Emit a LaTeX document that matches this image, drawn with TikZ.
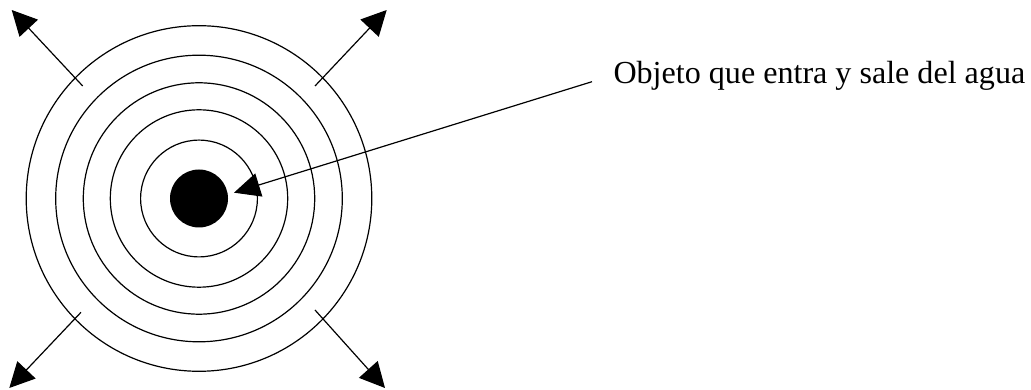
\documentclass[tikz,border=0pt]{standalone}
\usepackage{fontspec}
\setmainfont{Liberation Serif}
\usetikzlibrary{arrows.meta}
\begin{document}
\begin{tikzpicture}[x=1pt,y=1pt,
  ring/.style={draw=black,line width=1.2pt,circle,inner sep=0pt,minimum size=#1},
  bigarrow/.style={line width=1.2pt,-{Triangle[length=25pt,width=25pt]}},
  lbl/.style={font=\fontsize{32.1}{38}\selectfont,inner sep=0pt,anchor=base west}]
\useasboundingbox (0,0) rectangle (1031,390);
\coordinate (c) at (199,191.5);
\node[ring=116.8pt] (r1) at (c) {};
\node[ring=177.4pt] (r2) at (c) {};
\node[ring=231.4pt] (r3) at (c) {};
\node[ring=286.6pt] (r4) at (c) {};
\node[ring=345.6pt] (r5) at (c) {};
\node[circle,fill=black,inner sep=0pt,minimum size=58pt] (dot) at (c) {};
% outward arrows
\coordinate (s1) at (82.7,304);
\coordinate (t1) at (11.7,380);
\coordinate (s2) at (315,304);
\coordinate (t2) at (386.7,380);
\coordinate (s3) at (81,77.7);
\coordinate (t3) at (9.3,2);
\coordinate (s4) at (315,80);
\coordinate (t4) at (385,2);
\draw[bigarrow] (s1) -- (t1);
\draw[bigarrow] (s2) -- (t2);
\draw[bigarrow] (s3) -- (t3);
\draw[bigarrow] (s4) -- (t4);
% label and pointer
\node[lbl] (txt) at (613.3,306) {Objeto que entra y sale del agua};
\coordinate (p0) at (592,308.3);
\coordinate (p1) at (234,197.3);
\draw[line width=1.2pt,-{Triangle[length=26pt,width=24pt]}] (p0) -- (p1);
\end{tikzpicture}
\end{document}
